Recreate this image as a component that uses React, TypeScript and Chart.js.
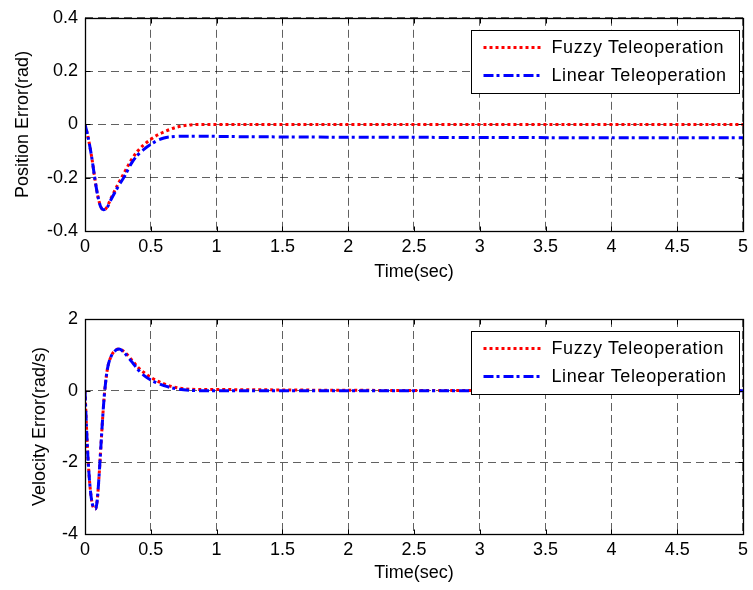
import React, { useEffect, useRef } from "react";
import { Chart, registerables } from "chart.js";

Chart.register(...registerables);

// ---------- Data ----------
const seriesNames = ["Fuzzy Teleoperation", "Linear Teleoperation"];

const timePos = [0, 0.02, 0.05, 0.08, 0.1, 0.12, 0.14, 0.16, 0.2, 0.25, 0.3, 0.35, 0.4, 0.45, 0.5, 0.55, 0.6, 0.7, 0.8, 0.9, 1.0, 1.5, 2, 3, 4, 5];
const fuzzyPos = [0, -0.04, -0.12, -0.22, -0.275, -0.31, -0.32, -0.315, -0.275, -0.225, -0.18, -0.135, -0.1, -0.075, -0.056, -0.04, -0.028, -0.01, -0.002, 0, 0, 0, 0, 0, 0, 0];
const linearPos = [0, -0.04, -0.12, -0.22, -0.275, -0.31, -0.32, -0.317, -0.28, -0.235, -0.195, -0.148, -0.115, -0.093, -0.075, -0.06, -0.051, -0.045, -0.044, -0.044, -0.045, -0.047, -0.048, -0.049, -0.05, -0.05];

const timeVel = [0, 0.01, 0.02, 0.03, 0.04, 0.05, 0.06, 0.07, 0.08, 0.09, 0.1, 0.11, 0.12, 0.13, 0.14, 0.15, 0.17, 0.2, 0.23, 0.26, 0.3, 0.35, 0.4, 0.45, 0.5, 0.6, 0.7, 0.8, 0.9, 1, 1.5, 2, 3, 4, 5];
const fuzzyVel = [0, -0.9, -1.7, -2.3, -2.75, -3.05, -3.22, -3.3, -3.3, -3.15, -2.75, -2.2, -1.6, -1.0, -0.45, 0, 0.6, 0.97, 1.12, 1.16, 1.08, 0.88, 0.66, 0.5, 0.37, 0.19, 0.08, 0.04, 0.03, 0.03, 0.02, 0.01, 0.005, 0, 0];
const linearVel = [0, -0.9, -1.7, -2.3, -2.75, -3.05, -3.22, -3.3, -3.3, -3.15, -2.75, -2.2, -1.6, -1.0, -0.45, 0, 0.6, 0.97, 1.12, 1.16, 1.05, 0.83, 0.6, 0.42, 0.3, 0.14, 0.05, 0.01, 0, 0, 0, 0, 0, 0, 0];

const xTicks = [0, 0.5, 1, 1.5, 2, 2.5, 3, 3.5, 4, 4.5, 5];
const yTicksPos = [-0.4, -0.2, 0, 0.2, 0.4];
const yTicksVel = [-4, -2, 0, 2];

const xTitle = "Time(sec)";
const yTitlePos = "Position Error(rad)";
const yTitleVel = "Velocity Error(rad/s)";

// ---------- Styles ----------
const FONT_FAMILY = "'Liberation Sans', Arial, Helvetica, sans-serif";
const FONT_SIZE = 18;
const seriesColors = ["#ff0000", "#0000ff"];
const seriesDash = [
  [3, 3],
  [10, 3, 3, 4],
];

const boxLegendPlugin = {
  id: "boxLegend",
  afterDraw(chart: any) {
    const { ctx, chartArea: a } = chart;
    const xs = chart.scales.x;
    const ys = chart.scales.y;
    ctx.save();
    ctx.setLineDash([]);
    ctx.strokeStyle = "#000";
    ctx.lineWidth = 1.3;
    const L = Math.round(a.left) + 0.5;
    const R = Math.round(a.right) + 0.5;
    const T = Math.round(a.top) + 0.5;
    const B = Math.round(a.bottom) + 0.5;
    ctx.strokeRect(L, T, R - L, B - T);
    const tl = 5;
    ctx.lineWidth = 1;
    ctx.beginPath();
    xs.ticks.forEach((t: any) => {
      const px = Math.round(xs.getPixelForValue(t.value)) + 0.5;
      ctx.moveTo(px, B);
      ctx.lineTo(px, B - tl);
      ctx.moveTo(px, T);
      ctx.lineTo(px, T + tl);
    });
    ys.ticks.forEach((t: any) => {
      const py = Math.round(ys.getPixelForValue(t.value)) + 0.5;
      ctx.moveTo(L, py);
      ctx.lineTo(L + tl, py);
      ctx.moveTo(R, py);
      ctx.lineTo(R - tl, py);
    });
    ctx.stroke();

    // legend box
    const bw = 268;
    const bh = 63;
    const bx = Math.round(a.right - 4 - bw) + 0.5;
    const by = Math.round(a.top + 12) + 0.5;
    ctx.fillStyle = "#fff";
    ctx.fillRect(bx, by, bw, bh);
    ctx.strokeStyle = "#000";
    ctx.lineWidth = 1;
    ctx.strokeRect(bx, by, bw, bh);
    chart.data.datasets.forEach((ds: any, i: number) => {
      const yy = by + 17 + i * 28;
      ctx.save();
      ctx.strokeStyle = ds.borderColor;
      ctx.lineWidth = ds.borderWidth;
      ctx.setLineDash(ds.borderDash);
      ctx.lineCap = "butt";
      ctx.beginPath();
      ctx.moveTo(bx + 12, yy);
      ctx.lineTo(bx + 70, yy);
      ctx.stroke();
      ctx.restore();
      ctx.fillStyle = "#000";
      ctx.font = `${FONT_SIZE}px ${FONT_FAMILY}`;
      ctx.textBaseline = "middle";
      ctx.textAlign = "left";
      try {
        (ctx as any).letterSpacing = "0.6px";
      } catch (e) {}
      ctx.fillText(ds.label, bx + 80, yy + 1);
      try {
        (ctx as any).letterSpacing = "0px";
      } catch (e) {}
    });
    ctx.restore();
  },
};

function makeConfig(
  times: number[],
  fuzzy: number[],
  linear: number[],
  yTicks: number[],
  yTitle: string,
  opts: { padTop: number; xAxisH: number; yTitlePad: number; xTitlePad: number }
): any {
  const toPts = (vals: number[]) => times.map((t, i) => ({ x: t, y: vals[i] }));
  const mk = (i: number, vals: number[]) => ({
    label: seriesNames[i],
    data: toPts(vals),
    borderColor: seriesColors[i],
    backgroundColor: seriesColors[i],
    borderWidth: 3,
    borderDash: seriesDash[i],
    borderCapStyle: "butt",
    pointRadius: 0,
    fill: false,
    cubicInterpolationMode: "monotone",
    order: i === 0 ? 1 : 0,
  });
  const font = { family: FONT_FAMILY, size: FONT_SIZE };
  const gridColor = "rgba(0,0,0,0.62)";
  return {
    type: "line",
    data: { datasets: [mk(0, fuzzy), mk(1, linear)] },
    options: {
      responsive: false,
      animation: false,
      devicePixelRatio: 1,
      layout: { padding: { top: opts.padTop, right: 10, left: 0, bottom: 0 } },
      plugins: { legend: { display: false }, tooltip: { enabled: false } },
      scales: {
        x: {
          type: "linear",
          min: xTicks[0],
          max: xTicks[xTicks.length - 1],
          afterBuildTicks: (s: any) => {
            s.ticks = xTicks.map((v) => ({ value: v }));
          },
          afterFit: (s: any) => {
            s.height = opts.xAxisH;
          },
          ticks: {
            autoSkip: false,
            maxRotation: 0,
            padding: 5,
            color: "#000",
            font,
            callback: (v: any) => String(v),
          },
          grid: { color: gridColor, lineWidth: 1, drawTicks: false },
          border: { display: false, dash: [8, 4] },
          title: {
            display: true,
            text: xTitle,
            color: "#000",
            font,
            padding: { top: 0, bottom: opts.xTitlePad },
          },
        },
        y: {
          type: "linear",
          min: yTicks[0],
          max: yTicks[yTicks.length - 1],
          afterBuildTicks: (s: any) => {
            s.ticks = yTicks.map((v) => ({ value: v }));
          },
          afterFit: (s: any) => {
            s.width = 85;
          },
          ticks: {
            autoSkip: false,
            padding: 7,
            color: "#000",
            font,
            callback: (v: any) => String(Number(Number(v).toFixed(2))),
          },
          grid: { color: gridColor, lineWidth: 1, drawTicks: false },
          border: { display: false, dash: [8, 5] },
          title: {
            display: true,
            text: yTitle,
            color: "#000",
            font,
            padding: { top: opts.yTitlePad, bottom: 0 },
          },
        },
      },
    },
    plugins: [boxLegendPlugin],
  };
}

export default function App() {
  const topRef = useRef<HTMLCanvasElement | null>(null);
  const botRef = useRef<HTMLCanvasElement | null>(null);

  useEffect(() => {
    const c1 = new Chart(
      topRef.current as HTMLCanvasElement,
      makeConfig(timePos, fuzzyPos, linearPos, yTicksPos, yTitlePos, {
        padTop: 16,
        xAxisH: 59,
        yTitlePad: 12.2,
        xTitlePad: 7.2,
      })
    );
    const c2 = new Chart(
      botRef.current as HTMLCanvasElement,
      makeConfig(timeVel, fuzzyVel, linearVel, yTicksVel, yTitleVel, {
        padTop: 29,
        xAxisH: 56,
        yTitlePad: 29.2,
        xTitlePad: 6.2,
      })
    );
    return () => {
      c1.destroy();
      c2.destroy();
    };
  }, []);

  return (
    <div
      style={{
        position: "absolute",
        left: 0,
        top: 0,
        width: 753,
        height: 590,
        background: "#fff",
        overflow: "hidden",
      }}
    >
      <canvas
        ref={topRef}
        width={753}
        height={290}
        style={{ position: "absolute", left: 0, top: 0, width: 753, height: 290 }}
      />
      <canvas
        ref={botRef}
        width={753}
        height={300}
        style={{ position: "absolute", left: 0, top: 290, width: 753, height: 300 }}
      />
    </div>
  );
}
